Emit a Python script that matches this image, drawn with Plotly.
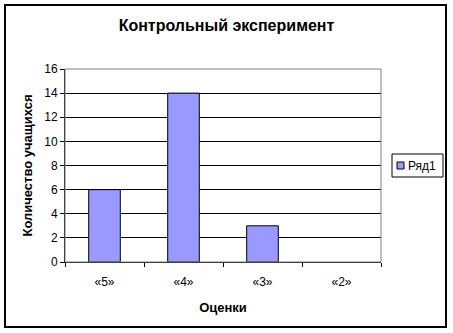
import plotly.graph_objects as go

categories = ["«5»", "«4»", "«3»", "«2»"]
values = [6, 14, 3, 0]
series_name = "Ряд1"
title = "Контрольный эксперимент"
x_title = "Оценки"
y_title = "Количество учащихся"
bar_color = "#9999FF"

L, R, T, B = 65, 381, 69, 262
W, H = 453, 333
pw, ph = R - L, B - T

fig = go.Figure()
fig.add_trace(go.Bar(
    x=categories, y=values, name=series_name,
    marker=dict(color=bar_color,
                line=dict(color="black", width=[1 if v else 0 for v in values])),
    width=0.4, showlegend=False,
))

def px(x):
    return (x - L) / pw

def py(y):
    return (B - y) / ph

fig.update_layout(
    width=W, height=H,
    margin=dict(l=L, r=W - R, t=T, b=H - B, autoexpand=False),
    paper_bgcolor="white", plot_bgcolor="white",
    font=dict(family="Liberation Sans, Arial", color="black", size=12),
    title=dict(text="<b>" + title + "</b>", x=0.5, xanchor="center",
               y=1 - 25 / H, yanchor="middle", font=dict(size=16)),
    xaxis=dict(
        title=dict(text="<b>" + x_title + "</b>", font=dict(size=13), standoff=14),
        showline=True, linecolor="black", linewidth=1, automargin=False,
        ticks="outside", ticklen=4, tickcolor="black", tickson="boundaries",
        ticklabelstandoff=9,
        showgrid=False, tickfont=dict(size=12), range=[-0.5, 3.5],
    ),
    yaxis=dict(
        title=dict(text="<b>" + y_title + "</b>", font=dict(size=13), standoff=8),
        range=[0, 16], dtick=2, showline=True, linecolor="black", linewidth=1,
        ticks="outside", ticklen=4, tickcolor="black", automargin=False,
        showgrid=True, gridcolor="black", gridwidth=1, zeroline=False,
        tickfont=dict(size=12),
    ),
    showlegend=False,
    bargap=0.6,
    shapes=[
        dict(type="rect", xref="x domain", yref="y domain", x0=0, x1=1, y0=0, y1=1,
             line=dict(color="gray", width=1), layer="above"),
        dict(type="rect", xref="paper", yref="paper",
             x0=px(5), x1=px(446), y0=py(327), y1=py(5),
             line=dict(color="black", width=2)),
        # legend box and swatch
        dict(type="rect", xref="paper", yref="paper",
             x0=px(392), x1=px(443), y0=py(177), y1=py(154),
             line=dict(color="black", width=1), fillcolor="white"),
        dict(type="rect", xref="paper", yref="paper",
             x0=px(397), x1=px(404), y0=py(169), y1=py(162),
             line=dict(color="black", width=1), fillcolor=bar_color),
    ],
    annotations=[
        dict(text=series_name, xref="paper", yref="paper",
             x=px(406), y=py(165.5), xanchor="left", yanchor="middle",
             showarrow=False, font=dict(size=12)),
    ],
)

fig.write_html("out.html")
